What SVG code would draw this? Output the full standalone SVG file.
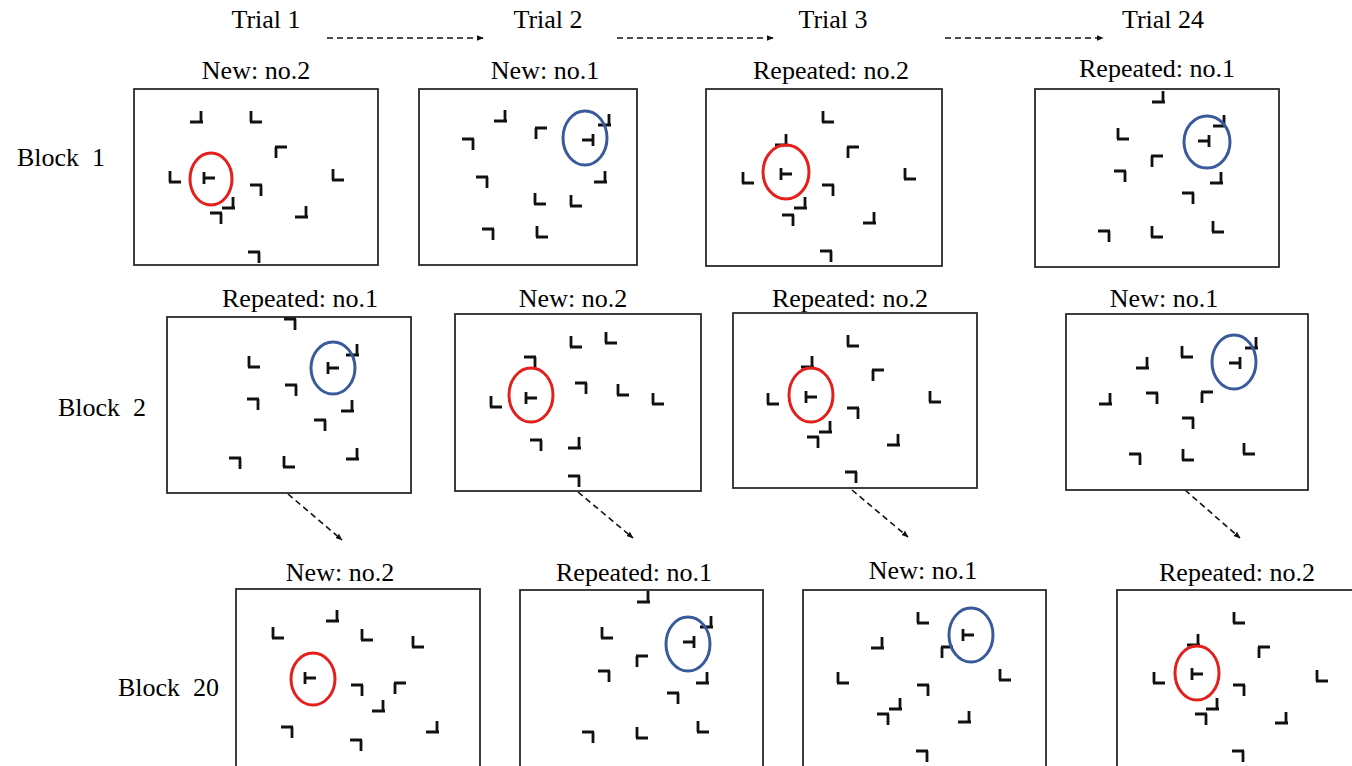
<svg xmlns="http://www.w3.org/2000/svg" xmlns:xlink="http://www.w3.org/1999/xlink" width="1352" height="766" viewBox="0 0 1352 766">
  <style>
    text { font-family: "Liberation Serif", "Times New Roman", serif; font-size: 26px; fill: #000; white-space: pre; }
    .title { text-anchor: middle; }
    .frame { fill: #fff; stroke: #2a2a2a; stroke-width: 1.8; }
    .g { fill: none; stroke: #111; stroke-width: 2.8; }
    .red { fill: none; stroke: #e3201c; stroke-width: 3; }
    .blue { fill: none; stroke: #3a5b9b; stroke-width: 3; }
    .flow { fill: none; stroke: #111; stroke-width: 1.6; stroke-dasharray: 6 4; }
  </style>
  <defs>
    <!-- distractor L shapes, named by the corner they form -->
    <path id="L" class="g" d="M-5,-6 V5 M-6,5 H6"/>
    <path id="J" class="g" d="M5,-6 V5 M-6,5 H7"/>
    <path id="F" class="g" d="M-5,6 V-5 M-6,-5 H6"/>
    <path id="S" class="g" d="M5,6 V-5 M-6,-5 H6"/>
    <!-- target T shapes -->
    <path id="TR" class="g" d="M-5,-6 V6 M-5,0 H6"/>
    <path id="TL" class="g" d="M5,-6 V6 M5,0 H-6"/>
    <marker id="head" viewBox="0 0 10 10" refX="9" refY="5" markerWidth="7" markerHeight="7" orient="auto" markerUnits="userSpaceOnUse">
      <path d="M0,1 L10,5 L0,9 Z" fill="#111"/>
    </marker>
  </defs>

  <rect width="1352" height="766" fill="#fff"/>

  <!-- column and row headings -->
  <g id="headings">
    <text class="title" x="266" y="28">Trial 1</text>
    <text class="title" x="548" y="28">Trial 2</text>
    <text class="title" x="833" y="28">Trial 3</text>
    <text class="title" x="1163" y="28">Trial 24</text>
    <text x="17" y="166">Block  1</text>
    <text x="58" y="416">Block  2</text>
    <text x="118" y="696">Block  20</text>
  </g>

  <!-- connectors -->
  <g id="connectors">
    <line class="flow" x1="327" y1="38" x2="483" y2="38" marker-end="url(#head)"/>
    <line class="flow" x1="617" y1="38" x2="773" y2="38" marker-end="url(#head)"/>
    <line class="flow" x1="945" y1="38" x2="1103" y2="38" marker-end="url(#head)"/>
    <line class="flow" x1="288" y1="494" x2="342" y2="540" marker-end="url(#head)"/>
    <line class="flow" x1="578" y1="492" x2="633" y2="538" marker-end="url(#head)"/>
    <line class="flow" x1="852" y1="490" x2="908" y2="537" marker-end="url(#head)"/>
    <line class="flow" x1="1185" y1="490" x2="1240" y2="538" marker-end="url(#head)"/>
  </g>

  <!-- Block 1, trial 1 -->
  <g id="b1t1">
    <text class="title" x="256" y="79">New: no.2</text>
    <rect class="frame" x="134" y="89" width="244" height="176"/>
    <use href="#J" x="196" y="117"/>
    <use href="#L" x="256" y="117"/>
    <use href="#F" x="281" y="152"/>
    <use href="#L" x="175" y="177"/>
    <use href="#TR" x="209" y="178"/>
    <use href="#S" x="256" y="190"/>
    <use href="#J" x="228" y="203"/>
    <use href="#S" x="216" y="218"/>
    <use href="#J" x="301" y="212"/>
    <use href="#L" x="338" y="175"/>
    <use href="#S" x="254" y="257"/>
    <ellipse class="red" cx="211" cy="179" rx="21" ry="26"/>
  </g>

  <!-- Block 1, trial 2 -->
  <g id="b1t2">
    <text class="title" x="545" y="79">New: no.1</text>
    <rect class="frame" x="419" y="89" width="218" height="176"/>
    <use href="#J" x="500" y="116"/>
    <use href="#F" x="541" y="133"/>
    <use href="#S" x="468" y="144"/>
    <use href="#TL" x="588" y="140"/>
    <use href="#J" x="604" y="120"/>
    <use href="#J" x="600" y="177"/>
    <use href="#S" x="482" y="182"/>
    <use href="#L" x="540" y="199"/>
    <use href="#L" x="576" y="201"/>
    <use href="#S" x="488" y="234"/>
    <use href="#L" x="542" y="232"/>
    <ellipse class="blue" cx="585" cy="138" rx="22" ry="27"/>
  </g>

  <!-- Block 1, trial 3 -->
  <g id="b1t3">
    <text class="title" x="831" y="79">Repeated: no.2</text>
    <rect class="frame" x="706" y="89" width="236" height="177"/>
    <use href="#L" x="828" y="117"/>
    <use href="#J" x="781" y="140"/>
    <use href="#F" x="853" y="152"/>
    <use href="#TR" x="786" y="174"/>
    <use href="#L" x="748" y="178"/>
    <use href="#S" x="828" y="190"/>
    <use href="#L" x="910" y="174"/>
    <use href="#J" x="800" y="203"/>
    <use href="#S" x="788" y="220"/>
    <use href="#J" x="869" y="218"/>
    <use href="#S" x="826" y="256"/>
    <ellipse class="red" cx="786" cy="172" rx="23" ry="27"/>
  </g>

  <!-- Block 1, trial 24 -->
  <g id="b1t24">
    <text class="title" x="1157" y="77">Repeated: no.1</text>
    <rect class="frame" x="1035" y="89" width="244" height="178"/>
    <use href="#J" x="1158" y="97"/>
    <use href="#L" x="1123" y="134"/>
    <use href="#F" x="1157" y="161"/>
    <use href="#S" x="1120" y="176"/>
    <use href="#TL" x="1204" y="141"/>
    <use href="#J" x="1219" y="121"/>
    <use href="#J" x="1216" y="178"/>
    <use href="#S" x="1188" y="198"/>
    <use href="#L" x="1218" y="227"/>
    <use href="#S" x="1104" y="236"/>
    <use href="#L" x="1157" y="232"/>
    <ellipse class="blue" cx="1207" cy="142" rx="23" ry="26"/>
  </g>

  <!-- Block 2, trial 1 -->
  <g id="b2t1">
    <text class="title" x="300" y="307">Repeated: no.1</text>
    <rect class="frame" x="167" y="317" width="244" height="176"/>
    <use href="#S" x="290" y="324"/>
    <use href="#L" x="254" y="362"/>
    <use href="#TR" x="333" y="368"/>
    <use href="#J" x="352" y="350"/>
    <use href="#S" x="291" y="390"/>
    <use href="#S" x="253" y="404"/>
    <use href="#J" x="347" y="406"/>
    <use href="#S" x="320" y="425"/>
    <use href="#S" x="235" y="463"/>
    <use href="#L" x="289" y="462"/>
    <use href="#J" x="352" y="454"/>
    <ellipse class="blue" cx="333" cy="368" rx="22" ry="26"/>
  </g>

  <!-- Block 2, trial 2 -->
  <g id="b2t2">
    <text class="title" x="573" y="307">New: no.2</text>
    <rect class="frame" x="455" y="314" width="246" height="177"/>
    <use href="#L" x="576" y="342"/>
    <use href="#L" x="611" y="338"/>
    <use href="#S" x="530" y="362"/>
    <use href="#TR" x="531" y="398"/>
    <use href="#L" x="496" y="402"/>
    <use href="#S" x="581" y="388"/>
    <use href="#L" x="623" y="390"/>
    <use href="#L" x="658" y="399"/>
    <use href="#S" x="536" y="445"/>
    <use href="#J" x="574" y="443"/>
    <use href="#S" x="574" y="481"/>
    <ellipse class="red" cx="531" cy="395" rx="22" ry="27"/>
  </g>

  <!-- Block 2, trial 3 -->
  <g id="b2t3">
    <text class="title" x="850" y="307">Repeated: no.2</text>
    <rect class="frame" x="733" y="313" width="244" height="175"/>
    <use href="#L" x="853" y="341"/>
    <use href="#J" x="807" y="362"/>
    <use href="#F" x="878" y="375"/>
    <use href="#TR" x="811" y="397"/>
    <use href="#L" x="773" y="399"/>
    <use href="#S" x="853" y="413"/>
    <use href="#L" x="935" y="397"/>
    <use href="#J" x="825" y="427"/>
    <use href="#S" x="813" y="442"/>
    <use href="#J" x="893" y="440"/>
    <use href="#S" x="851" y="477"/>
    <ellipse class="red" cx="811" cy="395" rx="22" ry="27"/>
  </g>

  <!-- Block 2, trial 24 -->
  <g id="b2t24">
    <text class="title" x="1164" y="307">New: no.1</text>
    <rect class="frame" x="1066" y="314" width="242" height="176"/>
    <use href="#J" x="1142" y="363"/>
    <use href="#L" x="1187" y="352"/>
    <use href="#TL" x="1235" y="363"/>
    <use href="#J" x="1251" y="343"/>
    <use href="#J" x="1105" y="399"/>
    <use href="#S" x="1152" y="398"/>
    <use href="#F" x="1207" y="397"/>
    <use href="#S" x="1188" y="423"/>
    <use href="#S" x="1135" y="459"/>
    <use href="#L" x="1188" y="455"/>
    <use href="#L" x="1249" y="449"/>
    <ellipse class="blue" cx="1234" cy="362" rx="22" ry="27"/>
  </g>

  <!-- Block 20, trial 1 -->
  <g id="b20t1">
    <text class="title" x="340" y="581">New: no.2</text>
    <rect class="frame" x="236" y="589" width="244" height="186"/>
    <use href="#J" x="332" y="616"/>
    <use href="#L" x="278" y="633"/>
    <use href="#L" x="367" y="635"/>
    <use href="#L" x="418" y="642"/>
    <use href="#TR" x="310" y="678"/>
    <use href="#S" x="357" y="690"/>
    <use href="#F" x="400" y="688"/>
    <use href="#J" x="378" y="706"/>
    <use href="#J" x="432" y="727"/>
    <use href="#S" x="287" y="732"/>
    <use href="#S" x="356" y="745"/>
    <ellipse class="red" cx="313" cy="679" rx="22" ry="26"/>
  </g>

  <!-- Block 20, trial 2 -->
  <g id="b20t2">
    <text class="title" x="634" y="581">Repeated: no.1</text>
    <rect class="frame" x="520" y="590" width="243" height="186"/>
    <use href="#J" x="643" y="597"/>
    <use href="#L" x="607" y="633"/>
    <use href="#F" x="642" y="661"/>
    <use href="#S" x="604" y="676"/>
    <use href="#TL" x="689" y="642"/>
    <use href="#J" x="706" y="622"/>
    <use href="#J" x="702" y="678"/>
    <use href="#S" x="673" y="698"/>
    <use href="#L" x="703" y="727"/>
    <use href="#S" x="588" y="737"/>
    <use href="#L" x="642" y="733"/>
    <ellipse class="blue" cx="688" cy="644" rx="22" ry="27"/>
  </g>

  <!-- Block 20, trial 3 -->
  <g id="b20t3">
    <text class="title" x="923" y="579">New: no.1</text>
    <rect class="frame" x="803" y="590" width="243" height="186"/>
    <use href="#L" x="923" y="618"/>
    <use href="#J" x="877" y="643"/>
    <use href="#TR" x="968" y="635"/>
    <use href="#F" x="947" y="652"/>
    <use href="#L" x="843" y="678"/>
    <use href="#L" x="1005" y="675"/>
    <use href="#S" x="923" y="690"/>
    <use href="#J" x="895" y="704"/>
    <use href="#S" x="883" y="719"/>
    <use href="#J" x="964" y="717"/>
    <use href="#S" x="922" y="756"/>
    <ellipse class="blue" cx="971" cy="635" rx="22" ry="27"/>
  </g>

  <!-- Block 20, trial 24 -->
  <g id="b20t24">
    <text class="title" x="1237" y="581">Repeated: no.2</text>
    <rect class="frame" x="1117" y="590" width="250" height="186"/>
    <use href="#L" x="1239" y="618"/>
    <use href="#J" x="1193" y="640"/>
    <use href="#F" x="1264" y="652"/>
    <use href="#TR" x="1197" y="674"/>
    <use href="#L" x="1159" y="678"/>
    <use href="#S" x="1239" y="690"/>
    <use href="#L" x="1322" y="676"/>
    <use href="#J" x="1212" y="704"/>
    <use href="#S" x="1201" y="719"/>
    <use href="#J" x="1281" y="718"/>
    <use href="#S" x="1238" y="756"/>
    <ellipse class="red" cx="1197" cy="673" rx="22" ry="27"/>
  </g>
</svg>
